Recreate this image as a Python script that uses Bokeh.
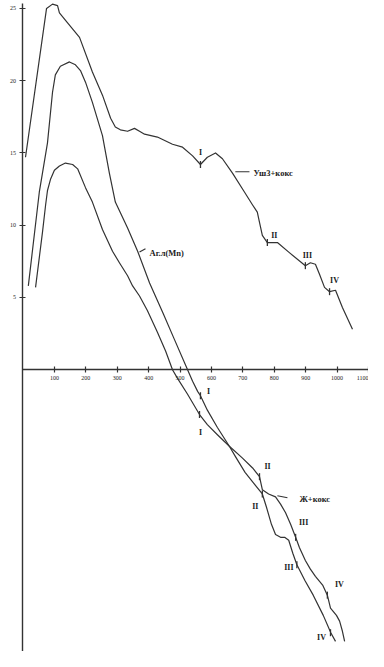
import numpy as np
from bokeh.plotting import figure
from bokeh.models import LinearAxis, FixedTicker, Range1d, ColumnDataSource
from bokeh.core.properties import value
from bokeh.embed import file_html
from bokeh.resources import INLINE

# ---- axis ticks ----
x_ticks = [100, 200, 300, 400, 500, 600, 700, 800, 900, 1000, 1100]
y_ticks = [5, 10, 15, 20, 25]

# ---- curve "Уш3+кокс" ----
ush_x = [8, 75, 94, 110, 116, 142, 180, 221, 253, 279, 294, 310, 333, 355, 371, 387, 428, 476, 508,
         540, 565, 587, 613, 635, 667, 705, 731, 746, 753, 762, 778, 810, 848, 899, 915, 931, 944,
         960, 976, 995, 1017, 1049]
ush_y = [14.7, 25.0, 25.3, 25.2, 24.7, 24.0, 23.0, 20.6, 19.0, 17.4, 16.8, 16.6, 16.5, 16.7, 16.5,
         16.3, 16.1, 15.6, 15.4, 14.8, 14.2, 14.7, 15.0, 14.6, 13.6, 12.3, 11.4, 10.9, 10.2, 9.3,
         8.8, 8.8, 8.1, 7.2, 7.4, 7.3, 6.6, 5.7, 5.4, 5.5, 4.3, 2.8]

# ---- curve "Аг.л(Mn)" ----
agl_x = [17, 52, 62, 78, 94, 103, 119, 148, 167, 183, 199, 221, 253, 275, 294, 333, 365, 403, 446,
         482, 524, 540, 556, 565, 587, 619, 657, 676, 707, 740, 762, 775, 791, 804, 820, 833, 846,
         859, 872, 898, 924, 956, 980, 995]
agl_y = [5.8, 12.3, 13.6, 15.7, 19.2, 20.4, 21.0, 21.3, 21.1, 20.7, 19.9, 18.5, 16.2, 13.6, 11.6,
         9.8, 8.2, 6.0, 3.9, 2.1, 0.0, -0.8, -1.5, -1.8, -2.8, -4.0, -5.3, -6.0, -7.1, -8.0, -8.6,
         -9.5, -10.7, -11.4, -11.6, -11.6, -11.8, -12.7, -13.5, -14.6, -15.6, -17.0, -18.2, -18.8]

# ---- curve "Ж+кокс" ----
zh_x = [40, 62, 72, 78, 88, 100, 116, 135, 158, 174, 199, 221, 253, 285, 307, 333, 349, 371, 396,
        428, 454, 476, 492, 524, 562, 587, 619, 657, 698, 731, 753, 762, 782, 804, 820, 836, 852,
        868, 880, 899, 915, 931, 954, 969, 979, 998, 1008, 1017, 1024]
zh_y = [5.7, 9.5, 11.4, 12.4, 13.2, 13.8, 14.1, 14.3, 14.2, 13.9, 12.6, 11.6, 9.7, 8.2, 7.4, 6.5,
        5.8, 5.1, 4.1, 2.6, 1.3, 0.0, -0.6, -1.7, -3.1, -3.8, -4.5, -5.3, -6.1, -6.8, -7.4, -8.3,
        -8.6, -8.8, -9.3, -9.9, -10.7, -11.6, -12.3, -13.2, -13.8, -14.3, -14.9, -15.6, -16.5,
        -17.0, -17.4, -18.1, -18.8]

# ---- transition marks (I..IV) on each curve ----
roman = ["I", "II", "III", "IV"]
ush_mark_x = [565, 778, 899, 976]
ush_mark_y = [14.2, 8.8, 7.2, 5.4]
agl_mark_x = [565, 762, 872, 979]
agl_mark_y = [-1.8, -8.6, -13.5, -18.2]
zh_mark_x = [562, 753, 868, 969]
zh_mark_y = [-3.1, -7.4, -11.6, -15.6]

# ---- layout / style ----
INK = "#333333"
SERIF = "Liberation Serif"
X0, X1 = -71.6, 1100
Y0, Y1 = -19.5, 25.55

p = figure(width=368, height=651, x_range=Range1d(X0, X1), y_range=Range1d(Y0, Y1),
           output_backend="svg", toolbar_location=None,
           x_axis_location=None, y_axis_location=None,
           min_border=0, min_border_left=0, min_border_right=0,
           min_border_top=0, min_border_bottom=0)
p.outline_line_color = None
p.grid.grid_line_color = None
p.background_fill_color = "white"
p.border_fill_color = "white"

yaxis = LinearAxis(fixed_location=0, ticker=FixedTicker(ticks=y_ticks), bounds=(Y0, 25.35))
xaxis = LinearAxis(fixed_location=0, ticker=FixedTicker(ticks=x_ticks), bounds=(0, X1))
for ax in (xaxis, yaxis):
    ax.axis_line_color = INK
    ax.axis_line_width = 1.4
    ax.major_tick_line_color = INK
    ax.major_tick_line_width = 1.2
    ax.major_tick_in = 3
    ax.major_tick_out = 3
    ax.minor_tick_line_color = None
    ax.major_label_text_font = SERIF
    ax.major_label_text_font_size = "6px"
    ax.major_label_text_color = "#222222"
yaxis.major_label_standoff = 4
xaxis.major_label_standoff = 3
p.add_layout(yaxis, "left")
p.add_layout(xaxis, "below")

for xs, ys in ((ush_x, ush_y), (agl_x, agl_y), (zh_x, zh_y)):
    p.line(xs, ys, line_color=INK, line_width=1.2, line_join="round")

# marks + roman labels
mark_sets = [
    (ush_mark_x, ush_mark_y, [0, 7, 2, 5], [-12, -7, -10, -11]),
    (agl_mark_x, agl_mark_y, [8, -7, -8, -9], [-4, 13, 3, 5]),
    (zh_mark_x, zh_mark_y, [1, 8, 8, 12], [18, -10, -15, -11]),
]
for mx, my, dx, dy in mark_sets:
    p.scatter(mx, my, marker="dash", angle=np.pi / 2, size=7, line_color=INK, line_width=1.3)
    src = ColumnDataSource(dict(x=mx, y=my, t=roman, dx=dx, dy=dy))
    p.text(x="x", y="y", text="t", x_offset="dx", y_offset="dy", source=src,
           text_font=value(SERIF), text_font_size="8px", text_font_style="bold",
           text_color="#222222", text_align="center", text_baseline="middle")

# curve name labels with leader lines
names = ["Уш3+кокс", "Аг.л(Mn)", "Ж+кокс"]
lead_x0 = [676, 371, 810]
lead_y0 = [13.7, 8.15, -8.72]
lead_x1 = [721, 390, 842]
lead_y1 = [13.7, 8.37, -8.86]
name_x = [734, 403, 880]
name_y = [13.63, 8.1, -8.93]
p.segment(lead_x0, lead_y0, lead_x1, lead_y1, line_color=INK, line_width=1.2)
p.text(name_x, name_y, text=names, text_font=value(SERIF), text_font_size="8.5px",
       text_font_style="bold", text_color="#222222", text_align="left", text_baseline="middle")

open("out.html", "w").write(file_html(p, INLINE))
